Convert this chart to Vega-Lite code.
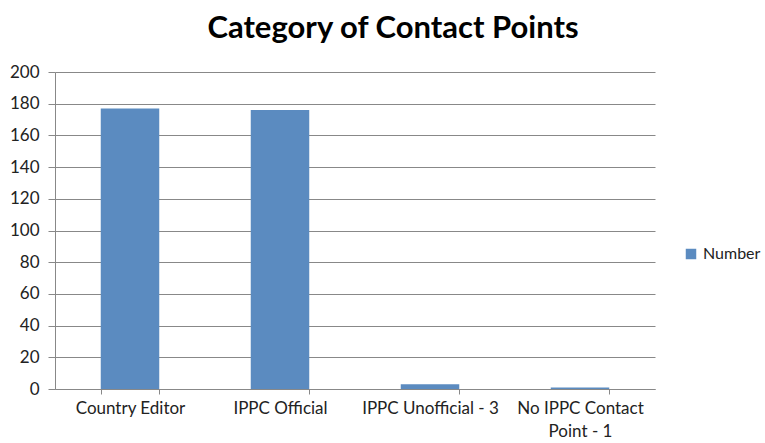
{
  "$schema": "https://vega.github.io/schema/vega-lite/v6.json",
  "width": 600,
  "height": 317,
  "autosize": {"type": "none"},
  "padding": {"left": 55, "top": 72, "right": 110, "bottom": 54},
  "background": "white",
  "title": {
    "text": "Category of Contact Points",
    "font": "Lato",
    "fontSize": 31,
    "fontWeight": "bold",
    "color": "#000000",
    "anchor": "middle",
    "frame": "group",
    "dx": 38,
    "offset": 18
  },
  "data": {
    "values": [
      {"category": "Country Editor", "Number": 177, "series": "Number"},
      {"category": "IPPC Official", "Number": 176, "series": "Number"},
      {"category": "IPPC Unofficial - 3", "Number": 3, "series": "Number"},
      {"category": "No IPPC Contact Point - 1", "Number": 1, "series": "Number"}
    ]
  },
  "mark": {"type": "bar"},
  "encoding": {
    "x": {
      "field": "category",
      "type": "nominal",
      "sort": null,
      "title": null,
      "scale": {"paddingInner": 0.61, "paddingOuter": 0.305},
      "axis": {
        "labelAngle": 0,
        "labelFont": "Lato",
        "labelFontSize": 17,
        "labelColor": "#222222",
        "labelPadding": 6,
        "labelLineHeight": 23,
        "tickBand": "extent",
        "tickSize": 5,
        "tickColor": "#888888",
        "domainColor": "#888888",
        "grid": false,
        "labelExpr": "datum.label == 'No IPPC Contact Point - 1' ? ['No IPPC Contact', 'Point - 1'] : datum.label"
      }
    },
    "y": {
      "field": "Number",
      "type": "quantitative",
      "title": null,
      "scale": {"domain": [0, 200], "nice": false},
      "axis": {
        "values": [0, 20, 40, 60, 80, 100, 120, 140, 160, 180, 200],
        "labelFont": "Lato",
        "labelFontSize": 17,
        "labelColor": "#222222",
        "labelPadding": 9,
        "tickSize": 7,
        "tickColor": "#888888",
        "domainColor": "#888888",
        "gridColor": "#888888",
        "gridOpacity": 1,
        "grid": true
      }
    },
    "color": {
      "field": "series",
      "type": "nominal",
      "scale": {"range": ["#5b8bc0"]},
      "legend": {
        "title": null,
        "orient": "none",
        "legendX": 628,
        "legendY": 174,
        "symbolType": "square",
        "symbolSize": 110,
        "labelOffset": 4,
        "labelFont": "Lato",
        "labelFontSize": 16,
        "labelColor": "#222222"
      }
    }
  },
  "config": {"view": {"stroke": null}}
}
